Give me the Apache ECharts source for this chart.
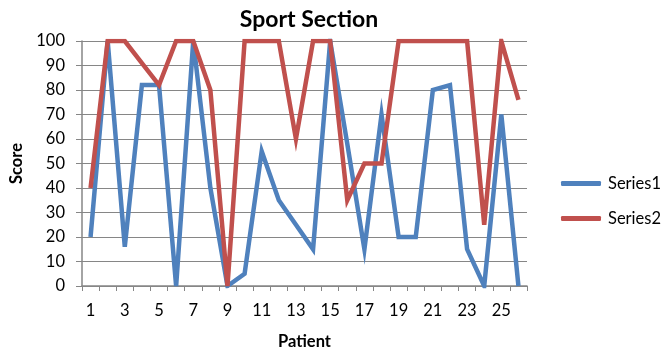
<!DOCTYPE html>
<html>
<head>
<meta charset="utf-8">
<script src="https://cdn.jsdelivr.net/npm/echarts@6/dist/echarts.min.js"></script>
<style>
  html, body { margin: 0; padding: 0; background: #fff; }
  #chart { width: 662px; height: 355px; }
</style>
</head>
<body>
<div id="chart"></div>
<script>
// Patients 1..26
const patients = Array.from({ length: 26 }, (_, i) => String(i + 1));

// Scores per patient
const series1 = [20, 100, 16, 82, 82, 0, 100, 40, 0, 5, 55, 35, 25, 15, 100, 58, 15, 70, 20, 20, 80, 82, 15, 0, 70, 0];
const series2 = [40, 100, 100, 91, 82, 100, 100, 80, 0, 100, 100, 100, 60, 100, 100, 35, 50, 50, 100, 100, 100, 100, 100, 25, 100, 76];

const yTicks = { min: 0, max: 100, interval: 10 };

const font = 'Lato, "Open Sans", "Liberation Sans", sans-serif';
const gray = '#868686';

const chart = echarts.init(document.getElementById('chart'), null, { renderer: 'canvas' });
chart.setOption({
  animation: false,
  textStyle: { fontFamily: font },
  title: {
    text: 'Sport Section',
    left: 304,
    textAlign: 'center',
    top: 3,
    textStyle: { fontSize: 23, fontWeight: 'bold', color: '#000', fontFamily: font }
  },
  legend: {
    orient: 'vertical',
    left: 556,
    top: 170,
    itemWidth: 40,
    itemHeight: 5,
    itemGap: 18,
    icon: 'roundRect',
    textStyle: { fontSize: 16.5, color: '#000', fontFamily: font, padding: [0, 0, 0, 2] },
    data: ['Series1', 'Series2']
  },
  grid: { left: 80, right: 135, top: 41, bottom: 68 },
  xAxis: {
    type: 'category',
    data: patients,
    boundaryGap: true,
    name: 'Patient',
    nameLocation: 'middle',
    nameGap: 47,
    nameTextStyle: { fontSize: 16.5, fontWeight: 'bold', color: '#000' },
    axisLine: { lineStyle: { color: gray, width: 1.5 } },
    axisTick: { show: true, interval: 0, length: 5, lineStyle: { color: gray } },
    axisLabel: { interval: 1, fontSize: 16.5, color: '#000', margin: 16 },
    splitLine: { show: false }
  },
  yAxis: {
    type: 'value',
    min: yTicks.min,
    max: yTicks.max,
    interval: yTicks.interval,
    name: 'Score',
    nameLocation: 'middle',
    nameGap: 57,
    nameRotate: 90,
    nameTextStyle: { fontSize: 16.5, fontWeight: 'bold', color: '#000' },
    axisLine: { show: true, lineStyle: { color: gray, width: 1.5 } },
    axisTick: { show: true, length: 6, lineStyle: { color: gray } },
    axisLabel: { fontSize: 16.5, color: '#000', margin: 17 },
    splitLine: { show: true, lineStyle: { color: gray, width: 1.2 } }
  },
  series: [
    {
      name: 'Series1',
      type: 'line',
      data: series1,
      symbol: 'none',
      lineStyle: { color: '#4F81BD', width: 4.5, join: 'miter' },
      itemStyle: { color: '#4F81BD' }
    },
    {
      name: 'Series2',
      type: 'line',
      data: series2,
      symbol: 'none',
      lineStyle: { color: '#C0504D', width: 4.5, join: 'miter' },
      itemStyle: { color: '#C0504D' }
    }
  ]
});
</script>
</body>
</html>
